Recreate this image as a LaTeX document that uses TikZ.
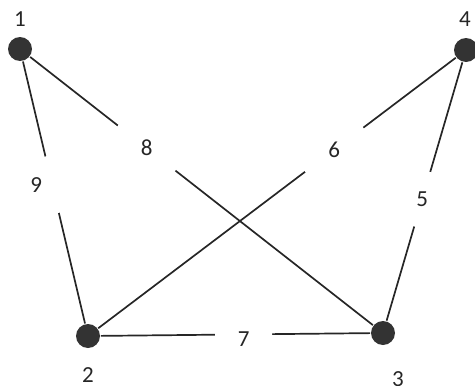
\documentclass[tikz,border=0pt]{standalone}
\usepackage{fontspec}
\setmainfont{Carlito}
\tikzstyle{vert}=[circle,fill=black!80,minimum size=24pt,inner sep=0pt]
\tikzstyle{num}=[font=\fontsize{23}{26}\selectfont,inner sep=0pt]
\tikzstyle{hole}=[circle,fill=white,inner sep=0pt]
\tikzstyle{ugraph}=[line width=1.7pt,black!85]

\begin{document}
\begin{tikzpicture}[x=1pt,y=-1pt,ugraph]
\useasboundingbox (0,0) rectangle (475,386);
\node[vert] (v1) at (20,49) {};
\node[vert] (v4) at (466,50) {};
\node[vert] (v2) at (88,336) {};
\node[vert] (v3) at (383,333) {};
\node[num] (t1) at (20,19) {1};
\node[num] (t4) at (465,19) {4};
\node[num] (t2) at (88,375) {2};
\node[num] (t3) at (398,379) {3};
\draw (v1)--node[hole,minimum size=58pt,pos=0.47]{} node[num,pos=0.47,xshift=-16pt]{9} (v2);
\draw (v1)--node[hole,minimum size=73pt,pos=0.34]{} node[num,pos=0.34]{8} (v3);
\draw (v4)--node[hole,minimum size=73pt,pos=0.34]{} node[num,pos=0.34]{6} (v2);
\draw (v4)--node[hole,minimum size=57pt,pos=0.53]{} node[num,pos=0.53]{5} (v3);
\draw (v2)--node[hole,minimum size=57pt,pos=0.53]{} node[num,pos=0.53,yshift=-5pt]{7} (v3);
\end{tikzpicture}
\end{document}
